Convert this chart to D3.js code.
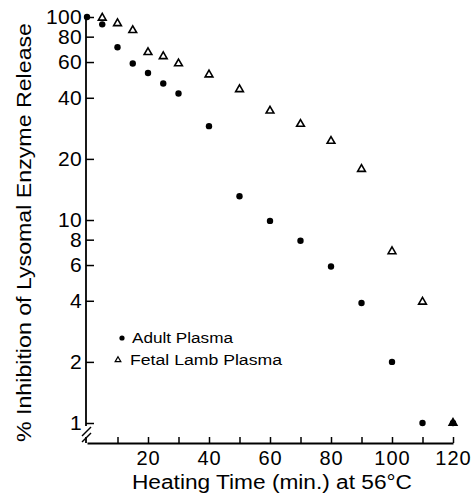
<!DOCTYPE html>
<html>
<head>
<meta charset="utf-8">
<script src="https://cdn.jsdelivr.net/npm/d3@7"></script>
<style>
  body { margin: 0; background: #fff; }
  text { font-family: "Liberation Sans", Arial, Helvetica, sans-serif; fill: #000; }
</style>
</head>
<body>
<div id="chart"></div>
<script>
// heating time (min.) at 56 C
const adultTime = [0, 5, 10, 15, 20, 25, 30, 40, 50, 60, 70, 80, 90, 100, 110, 120];
const adultValue = [100, 92, 71, 59, 53, 47, 42, 29, 13.1, 9.9, 7.9, 5.9, 3.9, 2, 1, 1];
const fetalTime = [5, 10, 15, 20, 25, 30, 40, 50, 60, 70, 80, 90, 100, 110, 120];
const fetalValue = [99, 93, 86, 67, 64, 59, 52, 44, 34.5, 29.7, 24.5, 17.8, 7, 3.95, 1];
const yTicks = [1, 2, 4, 6, 8, 10, 20, 40, 60, 80, 100];
const xMajor = [20, 40, 60, 80, 100, 120];
const xMinor = [10, 30, 50, 70, 90, 110];

const W = 473, H = 497;
const svg = d3.select("#chart").append("svg")
    .attr("width", W)
    .attr("height", H);

//scales
const x = d3.scaleLinear().domain([0, 120]).range([87, 453]);
const y = d3.scaleLog().domain([1, 100]).range([423, 17]);
const axisY = y(1) + 20;

//y axis (ticks inward, no domain)
const gy = svg.append("g")
    .attr("transform", `translate(${x(0) - 1},0)`)
    .call(d3.axisLeft(y).tickValues(yTicks).tickFormat(d3.format("d"))
        .tickSize(-8).tickPadding(4).tickSizeOuter(0));
gy.select(".domain").remove();
gy.selectAll("line").attr("stroke-width", 1.5);
gy.selectAll("text").attr("font-size", 21).attr("letter-spacing", 0.3);

//y axis line with a break near the bottom
const ax = x(0) - 1;
svg.append("line")
    .attr("x1", ax).attr("x2", ax)
    .attr("y1", y(100) - 2).attr("y2", y(1) + 3)
    .attr("stroke", "#000").attr("stroke-width", 1.8);
svg.append("line")
    .attr("x1", ax).attr("x2", ax)
    .attr("y1", y(1) + 14).attr("y2", axisY)
    .attr("stroke", "#000").attr("stroke-width", 1.8);
[y(1) + 9, y(1) + 15].forEach(c => {
  svg.append("line")
      .attr("x1", ax - 4).attr("y1", c + 4)
      .attr("x2", ax + 5).attr("y2", c - 5)
      .attr("stroke", "#000").attr("stroke-width", 1.5);
});

//x axis
const gx = svg.append("g")
    .attr("transform", `translate(0,${axisY})`)
    .call(d3.axisBottom(x).tickValues(xMajor).tickSize(-6).tickPadding(8).tickSizeOuter(0));
gx.select(".domain").attr("stroke-width", 2.2);
gx.selectAll("line").attr("stroke-width", 1.5);
gx.selectAll("text").attr("font-size", 20).attr("letter-spacing", 1);

const gxm = svg.append("g")
    .attr("transform", `translate(0,${axisY})`)
    .call(d3.axisBottom(x).tickValues(xMinor).tickSize(-6).tickFormat(""));
gxm.select(".domain").remove();
gxm.selectAll("line").attr("stroke-width", 1.5);

//axis titles
svg.append("text")
    .attr("x", 132).attr("y", 489)
    .attr("font-size", 20)
    .attr("textLength", 280)
    .attr("lengthAdjust", "spacingAndGlyphs")
    .text("Heating Time (min.) at 56°C");

svg.append("text")
    .attr("transform", "translate(31,442) rotate(-90)")
    .attr("font-size", 20)
    .attr("textLength", 419)
    .attr("lengthAdjust", "spacingAndGlyphs")
    .text("% Inhibition of Lysomal Enzyme Release");

//data points
const tri = d3.symbol().type(d3.symbolTriangle).size(26);

svg.selectAll(".adult")
    .data(adultTime)
    .enter().append("circle")
    .attr("class", "adult")
    .attr("cx", d => x(d))
    .attr("cy", (d, i) => y(adultValue[i]))
    .attr("r", 3.2)
    .attr("fill", "#000");

svg.selectAll(".fetal")
    .data(fetalTime)
    .enter().append("path")
    .attr("class", "fetal")
    .attr("d", tri)
    .attr("transform", (d, i) => `translate(${x(d)},${y(fetalValue[i])})`)
    .attr("fill", (d, i) => fetalValue[i] <= 1 ? "#000" : "#fff")
    .attr("stroke", "#000")
    .attr("stroke-width", 1.6);

//legend
svg.append("circle")
    .attr("cx", 122).attr("cy", 338)
    .attr("r", 2.6).attr("fill", "#000");
svg.append("text")
    .attr("x", 132).attr("y", 343)
    .attr("font-size", 14)
    .attr("textLength", 101)
    .attr("lengthAdjust", "spacingAndGlyphs")
    .text("Adult Plasma");

svg.append("path")
    .attr("d", d3.symbol().type(d3.symbolTriangle).size(14))
    .attr("transform", "translate(118,360)")
    .attr("fill", "#fff").attr("stroke", "#000").attr("stroke-width", 1.2);
svg.append("text")
    .attr("x", 130).attr("y", 365)
    .attr("font-size", 14)
    .attr("textLength", 152)
    .attr("lengthAdjust", "spacingAndGlyphs")
    .text("Fetal Lamb Plasma");
</script>
</body>
</html>
